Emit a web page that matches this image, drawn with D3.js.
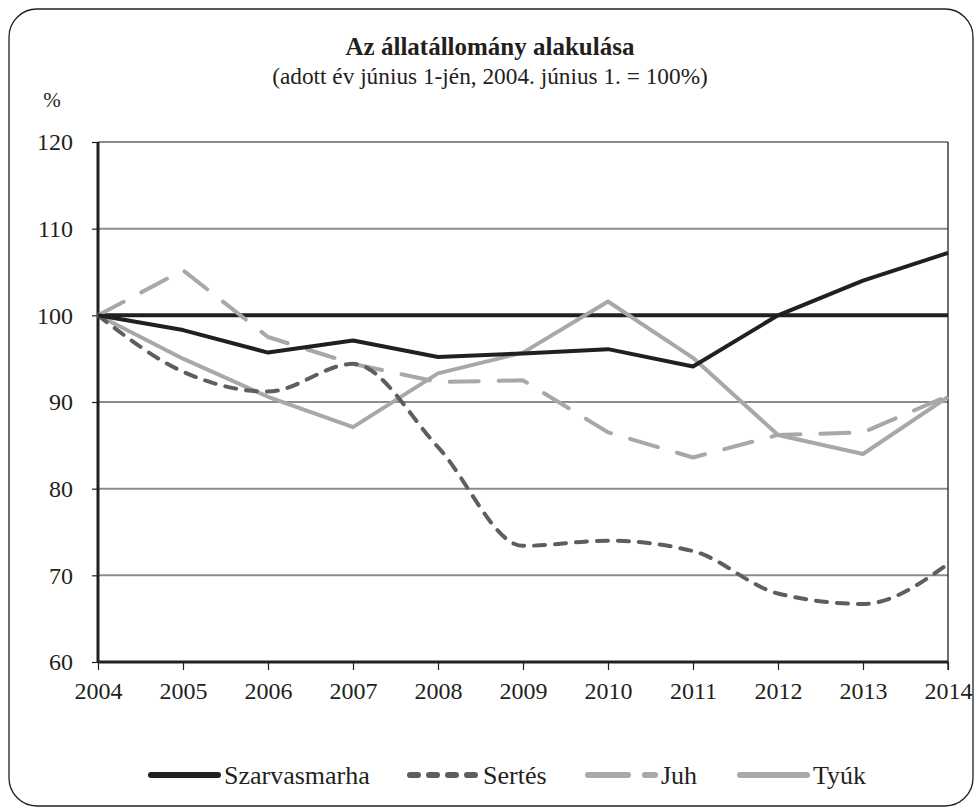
<!DOCTYPE html>
<head>
<script src="https://d3js.org/d3.v7.min.js"></script>
</head>
<body style="margin:0">
<svg id="chart" width="979" height="809" font-family="serif"></svg>
<script>

var width = 979;
var height = 809;
var serif = "Liberation Serif, serif";

// years and index values (2004 = 100)
var years = [2004, 2005, 2006, 2007, 2008, 2009, 2010, 2011, 2012, 2013, 2014];
var szarvasmarha = [100, 98.3, 95.7, 97.1, 95.2, 95.6, 96.1, 94.1, 100.0, 104.0, 107.2];
var sertes = [100, 93.5, 91.2, 94.4, 84.8, 73.4, 74.0, 72.8, 67.9, 66.7, 71.3];
var juh = [100, 105.2, 97.5, 94.4, 92.3, 92.5, 86.5, 83.6, 86.2, 86.5, 90.7];
var tyuk = [100, 95.0, 90.6, 87.1, 93.3, 95.7, 101.6, 95.1, 86.2, 84.0, 90.6];
var yTicks = [60, 70, 80, 90, 100, 110, 120];

var seriesNames = ["Szarvasmarha", "Sertés", "Juh", "Tyúk"];

var svg = d3.select("#chart");

var margin = {left: 98, right: 31, top: 142, bottom: 147};

var x = d3.scaleLinear()
    .domain([2004, 2014])
    .range([margin.left, width - margin.right]);

var y = d3.scaleLinear()
    .domain([60, 120])
    .range([height - margin.bottom, margin.top]);

function label(sel) {
    return sel.attr("font-family", serif).attr("fill", "#231f20");
}

// rounded outer frame
svg.append("rect")
    .attr("x", 9).attr("y", 9)
    .attr("width", 964).attr("height", 797)
    .attr("rx", 28).attr("ry", 28)
    .attr("fill", "none")
    .attr("stroke", "#231f20")
    .attr("stroke-width", 1.3);

// title
svg.append("text")
    .attr("x", 490).attr("y", 55)
    .attr("text-anchor", "middle")
    .attr("font-size", 25)
    .attr("font-weight", "bold")
    .call(label)
    .text("Az állatállomány alakulása");

svg.append("text")
    .attr("x", 490).attr("y", 84)
    .attr("text-anchor", "middle")
    .attr("font-size", 23.3)
    .call(label)
    .text("(adott év június 1-jén, 2004. június 1. = 100%)");

svg.append("text")
    .attr("x", 52).attr("y", 107)
    .attr("text-anchor", "middle")
    .attr("font-size", 21)
    .call(label)
    .text("%");

// gridlines
svg.append("g")
    .selectAll("line")
    .data(yTicks.filter(function(d) { return d > 60; }))
    .enter().append("line")
    .attr("x1", x(2004)).attr("x2", x(2014))
    .attr("y1", function(d) { return y(d); })
    .attr("y2", function(d) { return y(d); })
    .attr("stroke", "#8c8c8c")
    .attr("stroke-width", 2);

// right border of plot
svg.append("line")
    .attr("x1", x(2014)).attr("x2", x(2014))
    .attr("y1", y(120)).attr("y2", y(60) + 8)
    .attr("stroke", "#231f20")
    .attr("stroke-width", 1.3);

// y axis
var yAxis = svg.append("g")
    .attr("transform", "translate(" + x(2004) + ",0)")
    .call(d3.axisLeft(y).tickValues(yTicks).tickSize(6).tickPadding(19));

// x axis
var xAxis = svg.append("g")
    .attr("transform", "translate(0," + y(60) + ")")
    .call(d3.axisBottom(x).tickValues(years).tickFormat(d3.format("d")).tickSize(8).tickPadding(12));

[yAxis, xAxis].forEach(function(a) {
    a.attr("font-family", serif).attr("font-size", 24);
    a.select(".domain").attr("stroke", "#231f20").attr("stroke-width", 3);
    a.selectAll(".tick line").attr("stroke", "#231f20").attr("stroke-width", 1.2);
    a.selectAll(".tick text").call(label);
});
yAxis.select(".domain").attr("d", "M0," + y(60) + "V" + y(120));
xAxis.select(".domain").attr("d", "M" + x(2004) + ",0H" + x(2014));

// 100% reference line
svg.append("line")
    .attr("x1", x(2004)).attr("x2", x(2014))
    .attr("y1", y(100)).attr("y2", y(100))
    .attr("stroke", "#231f20")
    .attr("stroke-width", 4);

var series = [
    {name: seriesNames[0], values: szarvasmarha, color: "#231f20", dash: null, legendDash: "none", curve: d3.curveLinear},
    {name: seriesNames[1], values: sertes, color: "#5e5e5e", dash: "11,10", legendDash: "8,11", curve: d3.curveMonotoneX},
    {name: seriesNames[2], values: juh, color: "#a7a8aa", dash: "29,20", legendDash: "40,17", curve: d3.curveLinear},
    {name: seriesNames[3], values: tyuk, color: "#a7a8aa", dash: null, legendDash: "none", curve: d3.curveLinear}
];

// draw order: grey ones under, black on top
var drawOrder = [series[3], series[2], series[1], series[0]];

drawOrder.forEach(function(s) {
    var line = d3.line()
        .x(function(d, i) { return x(years[i]); })
        .y(function(d) { return y(d); })
        .curve(s.curve);
    var p = svg.append("path")
        .datum(s.values)
        .attr("d", line)
        .attr("fill", "none")
        .attr("stroke", s.color)
        .attr("stroke-width", 4)
        .attr("stroke-linecap", s.dash ? "round" : "butt")
        .attr("stroke-linejoin", "round");
    if (s.dash) p.attr("stroke-dasharray", s.dash);
});

// legend
var legendY = 775;
var legendX = [151, 410, 588, 740];
var legend = svg.append("g")
    .selectAll("g")
    .data(series)
    .enter().append("g")
    .attr("transform", function(d, i) { return "translate(" + legendX[i] + "," + legendY + ")"; });

legend.append("line")
    .attr("x1", 0).attr("x2", 67)
    .attr("y1", 0).attr("y2", 0)
    .attr("stroke", function(d) { return d.color; })
    .attr("stroke-width", 6)
    .attr("stroke-linecap", "round")
    .attr("stroke-dasharray", function(d) { return d.legendDash; });

legend.append("text")
    .attr("x", 73).attr("y", 9)
    .attr("font-size", 26)
    .call(label)
    .text(function(d) { return d.name; });

</script>
</body>
</html>
